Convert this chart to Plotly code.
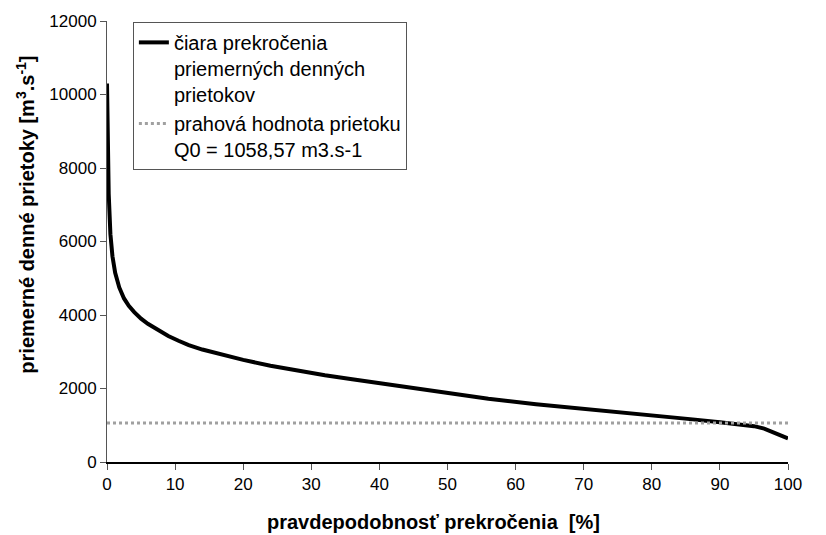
import plotly.graph_objects as go

# Exceedance probability [%] and mean daily discharge [m3/s]
pct = [0, 0.1, 0.25, 0.5, 0.8, 1.2, 1.8, 2.5, 3.2, 4, 5, 6, 7.5, 9, 10.5, 12,
       14, 16, 20, 24, 28, 32, 36, 42, 49, 56, 63, 70, 77.6, 82, 86, 90, 93,
       95, 96.5, 98, 99, 100]
flow = [10300, 8300, 7300, 6200, 5600, 5150, 4750, 4450, 4250, 4080, 3900, 3760,
        3580, 3430, 3300, 3180, 3060, 2960, 2780, 2620, 2480, 2360, 2250, 2090,
        1900, 1720, 1570, 1450, 1330, 1240, 1160, 1080, 1020, 975, 910, 810,
        720, 640]

thr_x = [0, 100]
thr_y = [1058.57, 1058.57]

x_ticks = [0, 10, 20, 30, 40, 50, 60, 70, 80, 90, 100]
x_labels = [str(v) for v in x_ticks]
y_ticks = [0, 2000, 4000, 6000, 8000, 10000, 12000]
y_labels = [str(v) for v in y_ticks]

FONT = "Arial, Liberation Sans, sans-serif"

fig = go.Figure()
fig.add_trace(go.Scatter(
    x=pct, y=flow, mode="lines",
    name="čiara prekročenia<br>priemerných denných<br>prietokov",
    line=dict(color="#000000", width=4),
))
fig.add_trace(go.Scatter(
    x=thr_x, y=thr_y, mode="lines",
    name="prahová hodnota prietoku<br>Q0 = 1058,57 m3.s-1",
    line=dict(color="#a0a0a0", width=3, dash="dot"),
))

fig.update_layout(
    width=826, height=535,
    margin=dict(l=107, r=38, t=19, b=73),
    paper_bgcolor="white", plot_bgcolor="white",
    font=dict(family=FONT, size=17, color="#000000"),
    showlegend=True,
    legend=dict(
        x=0.038, y=0.998, xanchor="left", yanchor="top",
        bgcolor="white", bordercolor="#555555", borderwidth=1,
        font=dict(family=FONT, size=20, color="#000000"),
        valign="top", tracegroupgap=0,
    ),
    xaxis=dict(
        range=[0, 100], tickvals=x_ticks, ticktext=x_labels,
        showgrid=False, zeroline=False,
        showline=True, linecolor="#000000", linewidth=1.5,
        ticks="outside", ticklen=6, tickcolor="#555555",
        tickfont=dict(family=FONT, size=17),
    ),
    yaxis=dict(
        range=[0, 12000], tickvals=y_ticks, ticktext=y_labels,
        showgrid=False, zeroline=False,
        showline=True, linecolor="#555555", linewidth=1,
        ticks="outside", ticklen=6, tickcolor="#555555",
        tickfont=dict(family=FONT, size=17),
    ),
    annotations=[
        dict(
            text="<b>priemerné denné prietoky [m<sup>3</sup>.s<sup>-1</sup>]</b>",
            xref="paper", yref="paper", x=-0.121, y=0.56,
            xanchor="center", yanchor="middle", textangle=-90, showarrow=False,
            font=dict(family=FONT, size=20, color="#000000"),
        ),
        dict(
            text="<b>pravdepodobnosť prekročenia \u00a0[%]</b>",
            xref="paper", yref="paper", x=0.479, y=-0.136,
            xanchor="center", yanchor="middle", showarrow=False,
            font=dict(family=FONT, size=20, color="#000000"),
        ),
    ],
)

fig.write_html("out.html")
